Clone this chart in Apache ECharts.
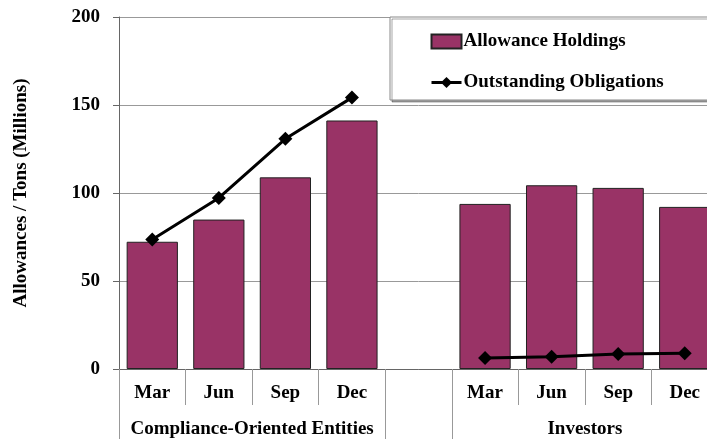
<!DOCTYPE html>
<html>
<head>
<meta charset="utf-8">
<script src="https://cdn.jsdelivr.net/npm/echarts@6/dist/echarts.min.js"></script>
<style>
html, body { margin: 0; padding: 0; background: #fff; overflow: hidden; }
/* chart is wider than the window: the last category is cut off on the right, as in the original */
#chart1 { width: 718px; height: 439px; }
</style>
</head>
<body>
<div id="chart1"></div>
<script>
// months per group, with an empty slot separating the two groups
var months = ['Mar', 'Jun', 'Sep', 'Dec', '', 'Mar', 'Jun', 'Sep', 'Dec'];
var groups = ['Compliance-Oriented Entities', 'Investors'];
var groupCenters = [2, 7];
var groupEdges = [0, 4, 5, 9];
var holdings = [72.3, 84.9, 108.9, 141.2, null, 93.8, 104.4, 102.9, 92.1];
var obligations = [73.6, 97.2, 130.8, 154.2, null, 6.2, 7, 8.5, 9];

var font = 'Liberation Serif';
var fs = 19;
var myChart1 = echarts.init(document.getElementById('chart1'));

var option = {
    animation: false,
    textStyle: { fontFamily: font },
    legend: {
        data: [
            { name: 'Allowance Holdings', icon: 'rect' },
            { name: 'Outstanding Obligations' }
        ],
        orient: 'vertical',
        left: 390,
        top: 17,
        padding: [15, 120, 8, 40],
        itemGap: 22,
        itemWidth: 30,
        itemHeight: 14,
        lineStyle: { width: 3 },
        backgroundColor: '#fff',
        borderColor: '#888',
        borderWidth: 1,
        shadowColor: 'rgba(0,0,0,0.35)',
        shadowOffsetX: 2,
        shadowOffsetY: 2,
        textStyle: { fontFamily: font, fontWeight: 'bold', fontSize: fs, color: '#000', padding: [0, 0, 0, -3] }
    },
    grid: {
        left: 119,
        top: 17,
        right: 0,
        bottom: 69,
        containLabel: false
    },
    xAxis: [
        {
            type: 'category',
            data: months,
            axisLine: { lineStyle: { color: '#666', width: 1 } },
            axisTick: { show: true, interval: 0, length: 36, lineStyle: { color: '#999' } },
            axisLabel: { interval: 0, margin: 15, color: '#000', fontFamily: font, fontWeight: 'bold', fontSize: fs }
        },
        {
            type: 'value',
            min: 0,
            max: 9,
            position: 'bottom',
            axisLine: { show: false },
            splitLine: { show: false },
            axisTick: { show: true, customValues: groupEdges, length: 70, lineStyle: { color: '#999' } },
            axisLabel: {
                customValues: groupCenters,
                margin: 51,
                color: '#000', fontFamily: font, fontWeight: 'bold', fontSize: fs,
                formatter: function (v) { return groups[groupCenters.indexOf(v)]; }
            }
        }
    ],
    yAxis: {
        type: 'value',
        min: 0,
        max: 200,
        interval: 50,
        name: 'Allowances / Tons (Millions)',
        nameLocation: 'middle',
        nameGap: 88,
        nameTextStyle: { color: '#000', fontFamily: font, fontWeight: 'bold', fontSize: fs },
        axisLine: { show: true, lineStyle: { color: '#666' } },
        axisTick: { show: true, length: 6, lineStyle: { color: '#666' } },
        axisLabel: { margin: 19, color: '#000', fontFamily: font, fontWeight: 'bold', fontSize: fs },
        splitLine: { show: true, lineStyle: { color: '#999', width: 1 } }
    },
    series: [
        {
            name: 'Allowance Holdings',
            type: 'bar',
            data: holdings,
            barCategoryGap: '23%',
            itemStyle: { color: '#993366', borderColor: '#222', borderWidth: 1 }
        },
        {
            name: 'Outstanding Obligations',
            type: 'line',
            data: obligations,
            connectNulls: false,
            symbol: 'diamond',
            symbolSize: 14,
            color: '#000',
            lineStyle: { color: '#000', width: 3 },
            itemStyle: { color: '#000' }
        }
    ]
};
myChart1.setOption(option);
</script>
</body>
</html>
